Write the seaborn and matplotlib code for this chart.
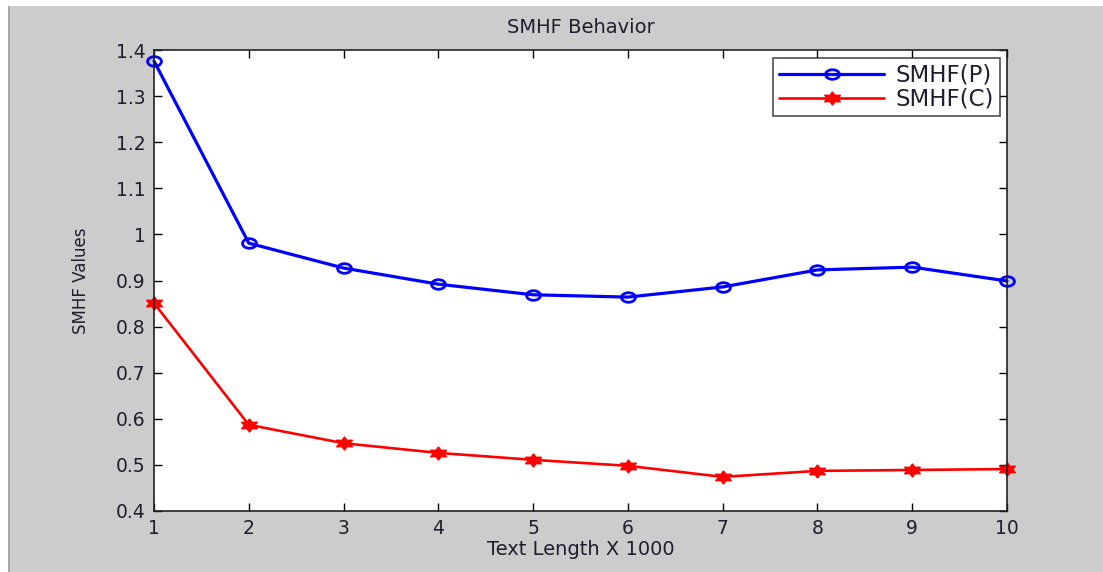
import matplotlib
matplotlib.use("Agg")
import matplotlib.pyplot as plt
import seaborn as sns
import pandas as pd
import numpy as np
from matplotlib.patches import Rectangle
from matplotlib.path import Path
from matplotlib.lines import Line2D

text_length = [1, 2, 3, 4, 5, 6, 7, 8, 9, 10]
smhf_p = [1.376, 0.981, 0.927, 0.892, 0.869, 0.864, 0.886, 0.923, 0.929, 0.899]
smhf_c = [0.851, 0.587, 0.547, 0.526, 0.511, 0.498, 0.474, 0.487, 0.489, 0.491]
series_names = ["SMHF(P)", "SMHF(C)"]
y_ticks = [0.4, 0.5, 0.6, 0.7, 0.8, 0.9, 1.0, 1.1, 1.2, 1.3, 1.4]
y_tick_labels = ["0.4", "0.5", "0.6", "0.7", "0.8", "0.9", "1", "1.1", "1.2", "1.3", "1.4"]

df = pd.DataFrame({
    "x": text_length * 2,
    "y": smhf_p + smhf_c,
    "series": [series_names[0]] * len(text_length) + [series_names[1]] * len(text_length),
})

sns.set_style("white")
plt.rcParams["font.family"] = ["DejaVu Sans"]
TXT = "#1e1e30"

# horizontally stretched markers (the reference image is stretched)
circ = Path.unit_circle()
ellipse = Path(circ.vertices * np.array([1.45, 1.0]), circ.codes)
ang = np.deg2rad([90, 30, -30, -90, -150, 150])
pts = []
for a in ang:
    pts.append([1.4 * np.cos(a), np.sin(a)])
    pts.append([1.4 * 0.55 * np.cos(a - np.pi / 6), 0.55 * np.sin(a - np.pi / 6)])
pts.append(pts[0])
star = Path(np.array(pts), [Path.MOVETO] + [Path.LINETO] * (len(pts) - 2) + [Path.CLOSEPOLY])

fig = plt.figure(figsize=(11.03, 5.72), dpi=100, facecolor="white")
fig.patches.append(Rectangle((8 / 1103, 0), 1 - 8 / 1103, 566 / 572, transform=fig.transFigure,
                             facecolor="#cccccc", edgecolor="none", zorder=-10))
fig.patches.append(Rectangle((8 / 1103, 0), 2 / 1103, 566 / 572, transform=fig.transFigure,
                             facecolor="#a8a8a8", edgecolor="none", zorder=-9))
ax = fig.add_axes([154 / 1103, 1 - 511 / 572, (1007 - 154) / 1103, (511 - 50) / 572])
ax.set_facecolor("white")

sns.lineplot(data=df, x="x", y="y", hue="series",
             palette={series_names[0]: "#0000ff", series_names[1]: "#ff0000"},
             ax=ax, legend=False, clip_on=False)

P_STYLE = dict(linewidth=2.3, marker=ellipse, markersize=10, markerfacecolor="none",
               markeredgecolor="#0000ff", markeredgewidth=2)
C_STYLE = dict(linewidth=1.9, marker=star, markersize=11, markerfacecolor="#ff0000",
               markeredgecolor="#ff0000", markeredgewidth=1.2)

for ln, name in zip(ax.get_lines(), series_names):
    ln.set(**(P_STYLE if name == series_names[0] else C_STYLE))

ax.set_xlim(1, 10)
ax.set_ylim(0.4, 1.4)
ax.set_xticks(text_length)
ax.set_xticklabels([str(v) for v in text_length])
ax.set_yticks(y_ticks)
ax.set_yticklabels(y_tick_labels)
ax.tick_params(direction="in", length=6, width=1, colors="black", labelcolor=TXT,
               labelsize=13.5, top=True, right=True, left=True, bottom=True)
ax.tick_params(axis="x", pad=6)
ax.tick_params(axis="y", pad=6)
for s in ax.spines.values():
    s.set_visible(True)
    s.set_color("#222222")
    s.set_linewidth(1.2)

ax.set_title("SMHF Behavior", fontsize=14, color=TXT, pad=12)
ax.set_xlabel("Text Length X 1000", fontsize=14, color=TXT, labelpad=1)
ax.set_ylabel("SMHF Values", fontsize=12, color=TXT, labelpad=19)

handles = [
    Line2D([], [], color="#0000ff", **P_STYLE),
    Line2D([], [], color="#ff0000", **C_STYLE),
]
leg = ax.legend(handles=handles, labels=series_names, loc="upper right",
                bbox_to_anchor=(0.9918, 0.983),
                fontsize=16.5, frameon=True, fancybox=False, edgecolor="#222222",
                handlelength=4.6, borderpad=0.25, labelspacing=0.05, handletextpad=0.5,
                borderaxespad=0)
leg.get_frame().set_linewidth(1.2)
for t in leg.get_texts():
    t.set_color(TXT)

fig.savefig("out.png", dpi=100, facecolor=fig.get_facecolor())
